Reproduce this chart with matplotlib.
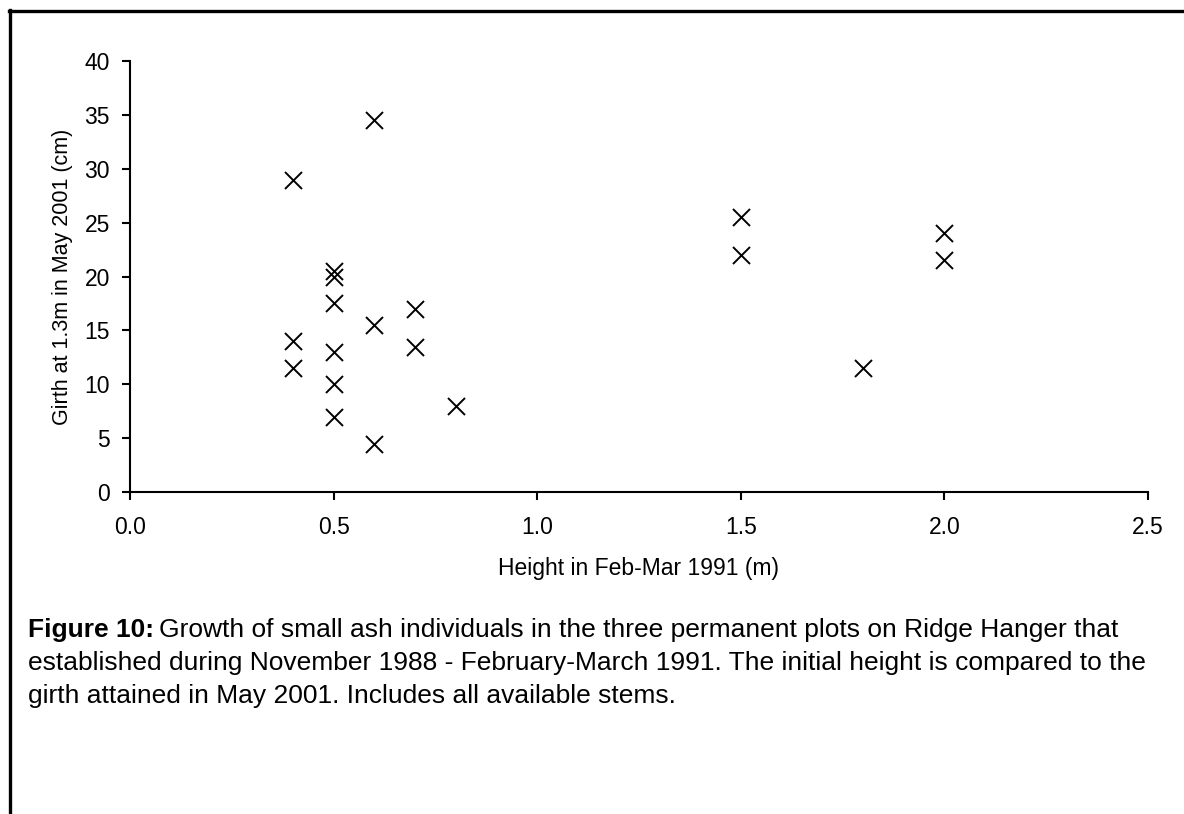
import matplotlib
matplotlib.use("Agg")
import matplotlib.pyplot as plt
from matplotlib.lines import Line2D

plt.rcParams['font.family'] = ['Liberation Sans', 'DejaVu Sans']

height_m = [0.4, 0.4, 0.4, 0.5, 0.5, 0.5, 0.5, 0.5, 0.5, 0.6, 0.6, 0.6, 0.7, 0.7, 0.8, 1.5, 1.5, 1.8, 2.0, 2.0]
girth_cm = [29, 14, 11.5, 20.5, 20, 17.5, 13, 10, 7, 34.5, 15.5, 4.5, 17, 13.5, 8, 25.5, 22, 11.5, 24, 21.5]
x_ticks = [0.0, 0.5, 1.0, 1.5, 2.0, 2.5]
x_ticklabels = ["0.0", "0.5", "1.0", "1.5", "2.0", "2.5"]
y_ticks = [0, 5, 10, 15, 20, 25, 30, 35, 40]

W, H = 1184, 814
fig = plt.figure(figsize=(W / 100, H / 100), dpi=100)

# frame lines (top and left)
fig.add_artist(Line2D([9.5 / W, 9.5 / W], [0, 1 - 10 / H], transform=fig.transFigure, color='black', lw=2.4))
fig.add_artist(Line2D([8.5 / W, 1], [1 - 10.5 / H, 1 - 10.5 / H], transform=fig.transFigure, color='black', lw=2.4))

ax = fig.add_axes([130 / W, 1 - 492 / H, (1148 - 130) / W, (492 - 61) / H])
ax.scatter(height_m, girth_cm, marker='x', s=150, color='black', linewidths=1.4, clip_on=False)
ax.set_xlim(0, 2.5)
ax.set_ylim(0, 40)
ax.set_xticks(x_ticks)
ax.set_xticklabels(x_ticklabels)
ax.set_yticks(y_ticks)
for s in ['top', 'right']:
    ax.spines[s].set_visible(False)
for s in ['left', 'bottom']:
    ax.spines[s].set_linewidth(1.5)
ax.tick_params(axis='x', direction='out', length=6, width=1.5, labelsize=16.5, pad=11.5)
ax.tick_params(axis='y', direction='out', length=6, width=1.5, labelsize=16.5, pad=8.5)
ax.set_xlabel("Height in Feb-Mar 1991 (m)", fontsize=16.5, labelpad=12.5)
ax.set_ylabel("Girth at 1.3m in May 2001 (cm)", fontsize=15.5, labelpad=8)

# caption
fs = 19
x0 = 28
t = fig.text(x0 / W, 1 - 637 / H, "Figure 10:", fontsize=fs, fontweight='bold', va='baseline', ha='left')
fig.canvas.draw()
bb = t.get_window_extent(renderer=fig.canvas.get_renderer())
fig.text((bb.x1 + 5) / W, 1 - 637 / H,
         "Growth of small ash individuals in the three permanent plots on Ridge Hanger that",
         fontsize=fs, va='baseline', ha='left')
fig.text(x0 / W, 1 - 670 / H,
         "established during November 1988 - February-March 1991. The initial height is compared to the",
         fontsize=fs, va='baseline', ha='left')
fig.text(x0 / W, 1 - 703 / H,
         "girth attained in May 2001. Includes all available stems.",
         fontsize=fs, va='baseline', ha='left')

fig.savefig("out.png", dpi=100)
